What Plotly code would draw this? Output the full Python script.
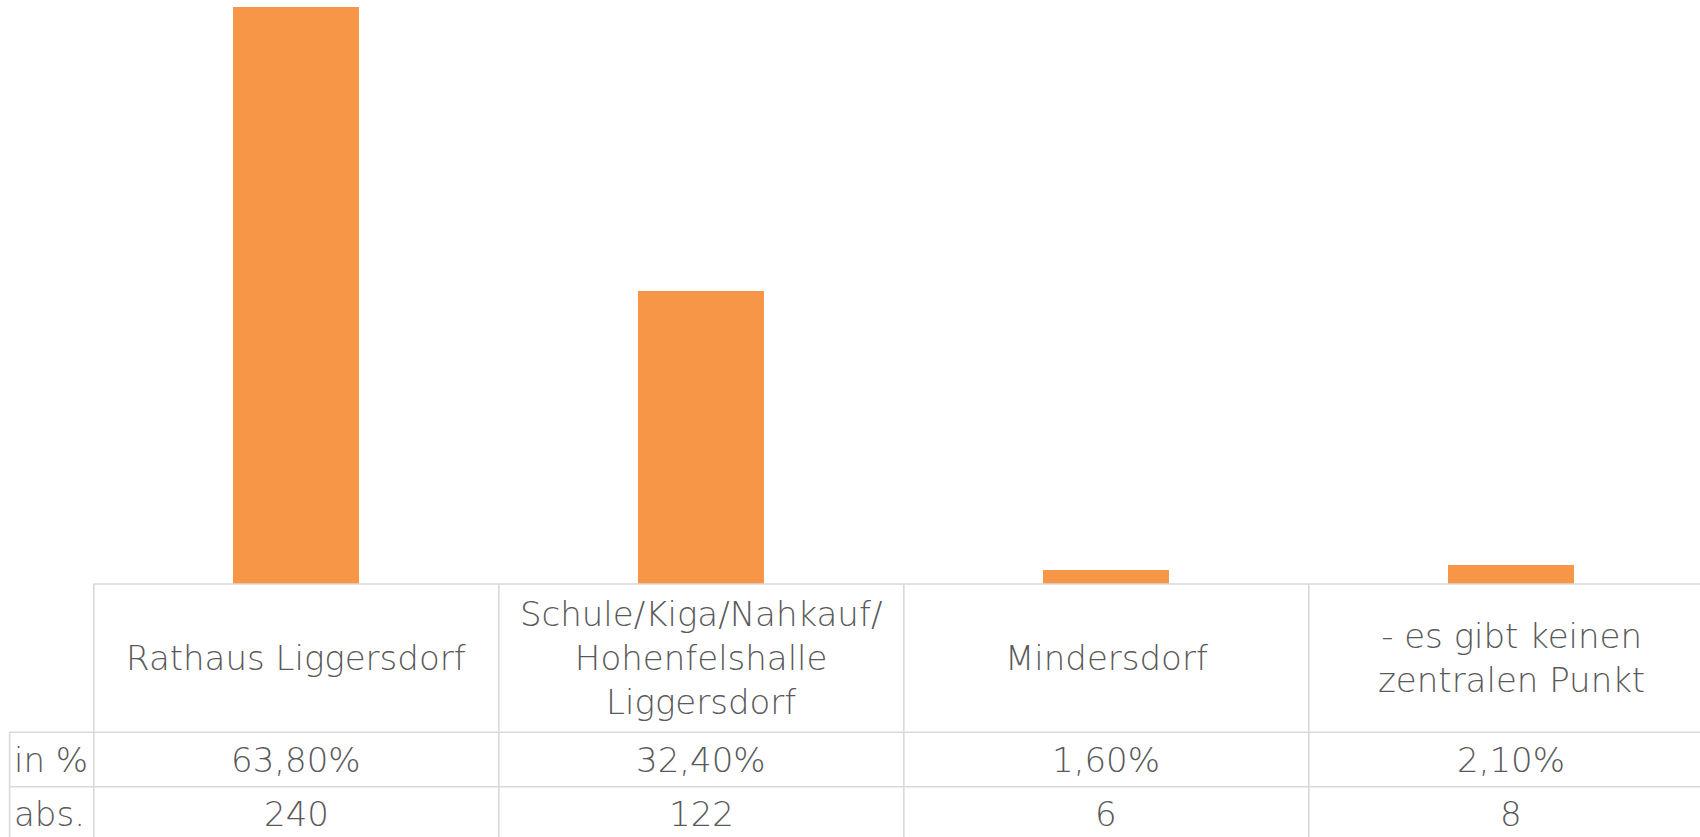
import plotly.graph_objects as go

# ---- data ----
categories = ["Rathaus Liggersdorf",
              "Schule/Kiga/Nahkauf/<br>Hohenfelshalle<br>Liggersdorf",
              "Mindersdorf",
              "- es gibt keinen<br>zentralen Punkt"]
pct_values = [63.8, 32.4, 1.6, 2.1]
abs_values = [240, 122, 6, 8]
row_labels = ["in %", "abs."]

# ---- layout constants (pixels) ----
W, H = 1700, 837
plot_left = 93.8
cat_w = 405.0
base_y = 584.0
hdr_bottom = 732.3
row2_bottom = 786.7
table_left = 9.6
line_col = "#D9D9D9"
txt_col = "#595959"
FONT = "DejaVu Sans"

def px(y):
    return (H - y) / H

def pxx(x):
    return x / W

idx = list(range(len(categories)))
x_max = -0.5 + (W - plot_left) / cat_w

fig = go.Figure()
fig.add_trace(go.Bar(x=idx, y=pct_values, width=0.312,
                     marker=dict(color="#F79646", line=dict(width=0)),
                     hoverinfo="skip"))

shapes = []
def hline(y, x0, x1):
    shapes.append(dict(type="line", xref="paper", yref="paper",
                       x0=pxx(x0), x1=pxx(x1), y0=px(y), y1=px(y),
                       line=dict(color=line_col, width=1.6)))
def vline(x, y0, y1):
    shapes.append(dict(type="line", xref="paper", yref="paper",
                       x0=pxx(x), x1=pxx(x), y0=px(y0), y1=px(y1),
                       line=dict(color=line_col, width=1.6)))

hline(base_y, plot_left, W)
hline(hdr_bottom, table_left, W)
hline(row2_bottom, table_left, W)
vline(plot_left, base_y, H)
vline(table_left, hdr_bottom, H)
for i in idx[:-1]:
    vline(plot_left + (i + 1) * cat_w, base_y, H)

annotations = []
fnt = dict(family=FONT, size=34, color=txt_col, weight=200)
hdr_mid = (base_y + hdr_bottom) / 2
r2_mid = (hdr_bottom + row2_bottom) / 2
r3_mid = row2_bottom + (row2_bottom - hdr_bottom) / 2
for i, cat in enumerate(categories):
    annotations.append(dict(x=i, y=px(hdr_mid), xref="x", yref="paper",
                            text=cat, showarrow=False, font=fnt,
                            xanchor="center", yanchor="middle", align="center"))
    annotations.append(dict(x=i, y=px(r2_mid), xref="x", yref="paper",
                            text=f"{pct_values[i]:.2f}".replace(".", ",") + "%",
                            showarrow=False, font=fnt,
                            xanchor="center", yanchor="middle"))
    annotations.append(dict(x=i, y=px(r3_mid), xref="x", yref="paper",
                            text=str(abs_values[i]), showarrow=False, font=fnt,
                            xanchor="center", yanchor="middle"))
for lbl, ym in zip(row_labels, [r2_mid, r3_mid]):
    annotations.append(dict(x=pxx(table_left + 2), y=px(ym), xref="paper", yref="paper",
                            text=lbl, showarrow=False, font=fnt,
                            xanchor="left", yanchor="middle"))

fig.update_layout(
    width=W, height=H,
    margin=dict(l=0, r=0, t=0, b=0),
    paper_bgcolor="white", plot_bgcolor="white",
    showlegend=False,
    xaxis=dict(domain=[plot_left / W, 1], range=[-0.5, x_max],
               showticklabels=False, showgrid=False, zeroline=False,
               showline=False, ticks=""),
    yaxis=dict(domain=[px(base_y), 1], range=[0, 63.8 + 7 * 63.8 / (base_y - 7)],
               showticklabels=False, showgrid=False, zeroline=False,
               showline=False, ticks=""),
    shapes=shapes,
    annotations=annotations,
    bargap=0,
)

fig.write_html("out.html",
               config={"displayModeBar": False, "staticPlot": True},
               post_script="document.body.style.margin='0';"
                           "document.body.style.overflow='hidden';")
